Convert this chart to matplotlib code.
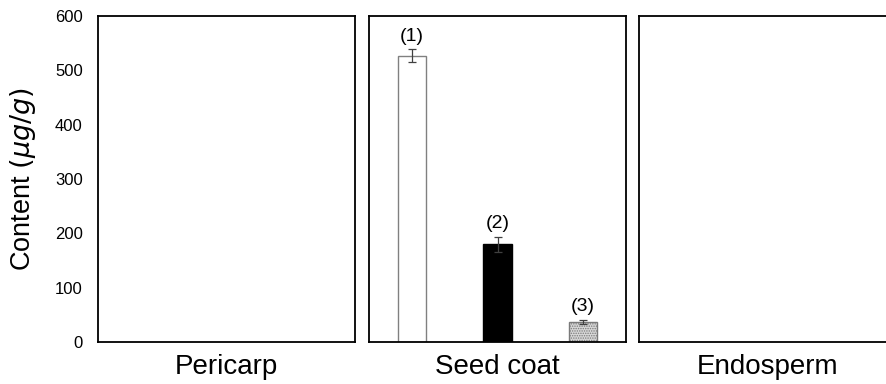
import numpy as np
import matplotlib
matplotlib.use('Agg')
import matplotlib.pyplot as plt

plt.rcParams['font.family'] = ['Liberation Sans', 'DejaVu Sans']
plt.rcParams['hatch.linewidth'] = 0.7

# dados
tecidos = ['Pericarp', 'Seed coat', 'Endosperm']
rotulos = ['(1)', '(2)', '(3)']
valores_seed = [527, 180, 37]
erros_seed = [12, 14, 4]
yticks = [0, 100, 200, 300, 400, 500, 600]

fig = plt.figure(figsize=(8.86, 3.84), dpi=100)
W, H = 886.0, 384.0

# posicoes dos paineis em pixels (esquerda, largura)
paineis = [(98, 257), (369, 257), (639, 257)]
topo, base = 16, 342

eixos = []
for i, (x0, w) in enumerate(paineis):
    ax = fig.add_axes([x0 / W, 1 - base / H, w / W, (base - topo) / H])
    ax.set_xlim(-0.5, 2.5)
    ax.set_ylim(0, 600)
    ax.set_xticks([])
    for s in ax.spines.values():
        s.set_linewidth(1.3)
        s.set_color('black')
    ax.set_xlabel(tecidos[i], fontsize=20, labelpad=9)
    if i == 0:
        ax.set_yticks(yticks)
        ax.tick_params(axis='y', length=0, pad=11, labelsize=12)
        ax.set_ylabel(r'Content $(\mu g/g)$', fontsize=19.5, labelpad=12)
    else:
        ax.set_yticks([])
    eixos.append(ax)

ax = eixos[1]
x = np.arange(3)
cores = ['white', 'black', '#d8d8d8']
bordas = ['#808080', 'black', '#7a7a7a']
for k in range(3):
    ax.bar(x[k], valores_seed[k], width=0.33, color=cores[k], edgecolor=bordas[k],
           linewidth=1.0, hatch='.......' if k == 2 else None, zorder=2)
ax.errorbar(x, valores_seed, yerr=erros_seed, fmt='none', ecolor='#404040',
            elinewidth=0.9, capsize=3, capthick=0.9, zorder=3)
for k in range(3):
    ax.text(x[k], valores_seed[k] + erros_seed[k] + 8, rotulos[k], ha='center',
            va='bottom', fontsize=14)

fig.savefig('out.png', dpi=100)
